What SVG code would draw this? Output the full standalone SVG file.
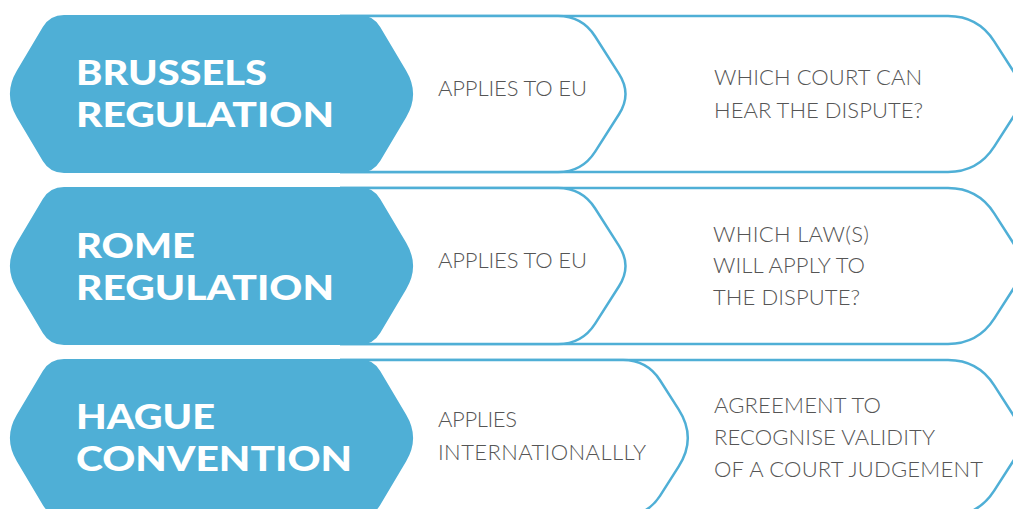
<svg xmlns="http://www.w3.org/2000/svg" width="1013" height="509" viewBox="0 0 1013 509">
<defs>
<style>
.blue{fill:#4fafd6;}
.out{fill:#ffffff;stroke:#4fafd6;stroke-width:2.5;}
.bold{font-family:Lato,"Open Sans","Liberation Sans",sans-serif;font-weight:900;font-size:34.9px;fill:#ffffff;}
.lt{font-family:Lato,"Open Sans","Liberation Sans",sans-serif;font-weight:300;font-size:22px;fill:#555555;}
</style>
<path id="blueShape" d="M64,15 L359,15 Q373,15 380.2,27 L406.2,70.8 Q420,94 406.2,117.2 L380.2,161 Q373,173 359,173 L64,173 Q50,173 42.8,161 L16.8,117.2 Q3,94 16.8,70.8 L42.8,27 Q50,15 64,15 Z"/>
<path id="rightShape" d="M340,16 L948,16 Q978,16 994.2,41.3 L1015,73.8 Q1028,94 1015,114.2 L994.2,146.7 Q978,172 948,172 L340,172"/>
<path id="midShape" d="M340,16 L558,16 Q582,16 595,36.2 L619,73.8 Q632,94 619,114.2 L595,151.8 Q582,172 558,172 L340,172"/>
<path id="midShapeWide" d="M340,16 L623,16 Q647,16 660,36.2 L678.6,65.4 Q697,94 678.6,122.6 L660,151.8 Q647,172 623,172 L340,172"/>
</defs>

<g id="row1-question">
<use href="#rightShape" class="out"/>
<text class="lt" x="714" y="85" textLength="208">WHICH COURT CAN</text>
<text class="lt" x="714" y="118" textLength="209">HEAR THE DISPUTE?</text>
</g>
<g id="row1-scope">
<use href="#midShape" class="out"/>
<text class="lt" x="438" y="96" textLength="149">APPLIES TO EU</text>
</g>
<g id="row1-title">
<use href="#blueShape" class="blue"/>
<text class="bold" x="76" y="85" textLength="191" lengthAdjust="spacingAndGlyphs">BRUSSELS</text>
<text class="bold" x="76" y="127" textLength="258" lengthAdjust="spacingAndGlyphs">REGULATION</text>
</g>

<g id="row2-question">
<use href="#rightShape" class="out" transform="translate(0,172)"/>
<text class="lt" x="713" y="242" textLength="156">WHICH LAW(S)</text>
<text class="lt" x="713" y="273" textLength="152">WILL APPLY TO</text>
<text class="lt" x="713" y="305" textLength="147">THE DISPUTE?</text>
</g>
<g id="row2-scope">
<use href="#midShape" class="out" transform="translate(0,172)"/>
<text class="lt" x="438" y="268" textLength="149">APPLIES TO EU</text>
</g>
<g id="row2-title">
<use href="#blueShape" class="blue" transform="translate(0,172)"/>
<text class="bold" x="76" y="258" textLength="119" lengthAdjust="spacingAndGlyphs">ROME</text>
<text class="bold" x="76" y="300" textLength="258" lengthAdjust="spacingAndGlyphs">REGULATION</text>
</g>

<g id="row3-question">
<use href="#rightShape" class="out" transform="translate(0,344)"/>
<text class="lt" x="714" y="413" textLength="167">AGREEMENT TO</text>
<text class="lt" x="714" y="445" textLength="221">RECOGNISE VALIDITY</text>
<text class="lt" x="714" y="477" textLength="269">OF A COURT JUDGEMENT</text>
</g>
<g id="row3-scope">
<use href="#midShapeWide" class="out" transform="translate(0,344)"/>
<text class="lt" x="438" y="427" textLength="79">APPLIES</text>
<text class="lt" x="438" y="460" textLength="208">INTERNATIONALLLY</text>
</g>
<g id="row3-title">
<use href="#blueShape" class="blue" transform="translate(0,344)"/>
<text class="bold" x="76" y="429" textLength="139" lengthAdjust="spacingAndGlyphs">HAGUE</text>
<text class="bold" x="76" y="471" textLength="276" lengthAdjust="spacingAndGlyphs">CONVENTION</text>
</g>
</svg>
